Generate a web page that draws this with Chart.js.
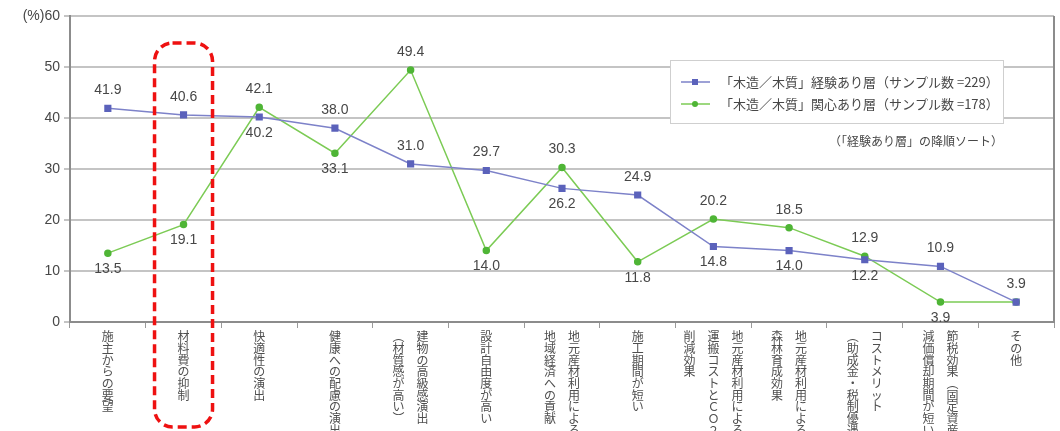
<!DOCTYPE html>
<html lang="ja">
<head>
<meta charset="utf-8">
<script src="https://cdn.jsdelivr.net/npm/chart.js@4/dist/chart.umd.min.js"></script>
<style>
  html, body { margin: 0; padding: 0; background: #ffffff; }
  #wrap { width: 1060px; height: 431px; position: relative; }
</style>
</head>
<body>
<div id="wrap"><canvas id="c" width="1060" height="431"></canvas></div>
<script>
// Vertical (tategaki) category labels: each entry lists its columns, right column first.
const categoryColumns = [
  ['施主からの要望'],
  ['材料費の抑制'],
  ['快適性の演出'],
  ['健康への配慮の演出'],
  ['建物の高級感演出', '︵材質感が高い︶'],
  ['設計自由度が高い'],
  ['地元産材利用による', '地域経済への貢献'],
  ['施工期間が短い'],
  ['地元産材利用による', '運搬コストとＣＯ２の', '削減効果'],
  ['地元産材利用による', '森林育成効果'],
  ['コストメリット', '︵助成金・税制優遇︶'],
  ['節税効果︵固定資産税の', '減価償却期間が短い︶'],
  ['その他']
];

// Share of respondents (%)
const experiencedValues = [41.9, 40.6, 40.2, 38.0, 31.0, 29.7, 26.2, 24.9, 14.8, 14.0, 12.2, 10.9, 3.9];
const interestedValues  = [13.5, 19.1, 42.1, 33.1, 49.4, 14.0, 30.3, 11.8, 20.2, 18.5, 12.9, 3.9, 3.9];

const seriesNames = [
  '「木造／木質」経験あり層（サンプル数 =229）',
  '「木造／木質」関心あり層（サンプル数 =178）'
];
const sortNote = '（「経験あり層」の降順ソート）';
const yTicks = [0, 10, 20, 30, 40, 50, 60];

// Build one text row per character position, columns laid out left to right.
function toRows(cols) {
  const ordered = cols.slice().reverse();
  const n = Math.max(...ordered.map(c => Array.from(c).length));
  const rows = [];
  for (let i = 0; i < n; i++) {
    rows.push(ordered.map(c => Array.from(c)[i] || '\u3000').join('\u3000'));
  }
  return rows;
}
const categoryLabels = categoryColumns.map(toRows);

const BLUE_LINE = '#7d82c9';
const BLUE_PT = '#5b62bb';
const GREEN_LINE = '#7ccb55';
const GREEN_PT = '#4fb536';
const TEXT = '#474747';
const CJK = '"Noto Sans CJK JP", "Noto Sans", sans-serif';
const NUM = '"Liberation Sans", Arial, sans-serif';

// Value labels: which side of the point each label sits on (-1 above, 1 below).
const labelSide = [
  [-1, -1, 1, -1, -1, -1, 1, -1, 1, 1, 1, -1, -1],
  [1, 1, -1, 1, -1, 1, -1, 1, -1, -1, -1, 1, 0]
];

const framePlugin = {
  id: 'frame',
  beforeDatasetsDraw(chart) {
    const { ctx, chartArea: a } = chart;
    ctx.save();
    ctx.strokeStyle = '#8c8c8c';
    ctx.lineWidth = 2;
    ctx.beginPath();
    ctx.moveTo(a.right, a.top);
    ctx.lineTo(a.right, a.bottom);
    ctx.stroke();
    ctx.restore();
  }
};

const overlayPlugin = {
  id: 'overlay',
  afterDatasetsDraw(chart) {
    const { ctx } = chart;

    // value labels
    ctx.save();
    ctx.font = '14px ' + NUM;
    ctx.fillStyle = TEXT;
    ctx.textAlign = 'center';
    ctx.textBaseline = 'middle';
    chart.data.datasets.forEach((ds, di) => {
      const meta = chart.getDatasetMeta(di);
      meta.data.forEach((pt, i) => {
        const side = labelSide[di][i];
        if (!side) return;
        const off = side < 0 ? -18 : 16;
        ctx.fillText(ds.data[i].toFixed(1), pt.x, pt.y + off);
      });
    });
    ctx.restore();

    // legend box
    const lx = 670, ly = 60, lw = 333, lh = 63;
    ctx.save();
    ctx.fillStyle = '#ffffff';
    ctx.fillRect(lx, ly, lw, lh);
    ctx.strokeStyle = '#cfcfcf';
    ctx.lineWidth = 1;
    ctx.strokeRect(lx + 0.5, ly + 0.5, lw, lh);
    const entries = [
      { name: seriesNames[0], line: BLUE_LINE, pt: BLUE_PT, shape: 'rect' },
      { name: seriesNames[1], line: GREEN_LINE, pt: GREEN_PT, shape: 'circle' }
    ];
    entries.forEach((e, k) => {
      const cy = ly + 22 + k * 22;
      ctx.strokeStyle = e.line;
      ctx.lineWidth = 1.5;
      ctx.beginPath();
      ctx.moveTo(lx + 11, cy);
      ctx.lineTo(lx + 40, cy);
      ctx.stroke();
      ctx.fillStyle = e.pt;
      if (e.shape === 'rect') {
        ctx.fillRect(lx + 22, cy - 3, 6, 6);
      } else {
        ctx.beginPath();
        ctx.arc(lx + 25, cy, 3, 0, Math.PI * 2);
        ctx.fill();
      }
      ctx.fillStyle = TEXT;
      ctx.font = '13px ' + CJK;
      ctx.textAlign = 'left';
      ctx.textBaseline = 'middle';
      ctx.fillText(e.name, lx + 50, cy);
    });
    ctx.font = '12px ' + CJK;
    ctx.textAlign = 'right';
    ctx.textBaseline = 'middle';
    ctx.fillStyle = TEXT;
    ctx.fillText(sortNote, lx + lw, ly + lh + 18);
    ctx.restore();
  },
  afterDraw(chart) {
    // dashed highlight around the second category
    const { ctx } = chart;
    const xs = chart.scales.x, ys = chart.scales.y;
    const cx = xs.getPixelForValue(1);
    const left = cx - 29, right = cx + 29;
    const top = ys.getPixelForValue(54.7), bottom = 427;
    ctx.save();
    ctx.strokeStyle = '#ee1111';
    ctx.lineWidth = 3.5;
    ctx.setLineDash([9, 5]);
    ctx.beginPath();
    ctx.roundRect(left, top, right - left, bottom - top, 18);
    ctx.stroke();
    ctx.restore();
  }
};

new Chart(document.getElementById('c'), {
  type: 'line',
  data: {
    labels: categoryLabels,
    datasets: [
      {
        label: seriesNames[0],
        data: experiencedValues,
        borderColor: BLUE_LINE,
        backgroundColor: BLUE_PT,
        pointBackgroundColor: BLUE_PT,
        pointBorderColor: BLUE_PT,
        pointStyle: 'rect',
        pointRadius: 4,
        borderWidth: 1.5,
        tension: 0
      },
      {
        label: seriesNames[1],
        data: interestedValues,
        borderColor: GREEN_LINE,
        backgroundColor: GREEN_PT,
        pointBackgroundColor: GREEN_PT,
        pointBorderColor: GREEN_PT,
        pointStyle: 'circle',
        pointRadius: 3,
        borderWidth: 1.5,
        tension: 0
      }
    ]
  },
  options: {
    responsive: false,
    animation: false,
    devicePixelRatio: 1,
    layout: { padding: { top: 16, right: 6, left: 0, bottom: 0 } },
    plugins: {
      legend: { display: false },
      tooltip: { enabled: false }
    },
    scales: {
      x: {
        offset: true,
        grid: { display: true, drawOnChartArea: false, offset: true, tickLength: 6, color: '#9a9a9a', lineWidth: 1 },
        border: { display: true, color: '#8c8c8c', width: 2 },
        ticks: {
          autoSkip: false,
          maxRotation: 0,
          minRotation: 0,
          padding: 3,
          color: '#4f4f4f',
          font: { family: CJK, size: 12, lineHeight: 0.97 }
        },
        afterFit(scale) { scale.height = 109; }
      },
      y: {
        min: 0,
        max: 60,
        afterBuildTicks(scale) { scale.ticks = yTicks.map(v => ({ value: v })); },
        grid: { color: '#c4c4c4', lineWidth: 2, tickLength: 6 },
        border: { display: true, color: '#8c8c8c', width: 2 },
        ticks: {
          color: TEXT,
          padding: 4,
          font: { family: NUM, size: 14 },
          callback: v => (v === 60 ? '(%)60' : String(v))
        },
        afterFit(scale) { scale.width = 70; }
      }
    }
  },
  plugins: [framePlugin, overlayPlugin]
});
</script>
</body>
</html>
